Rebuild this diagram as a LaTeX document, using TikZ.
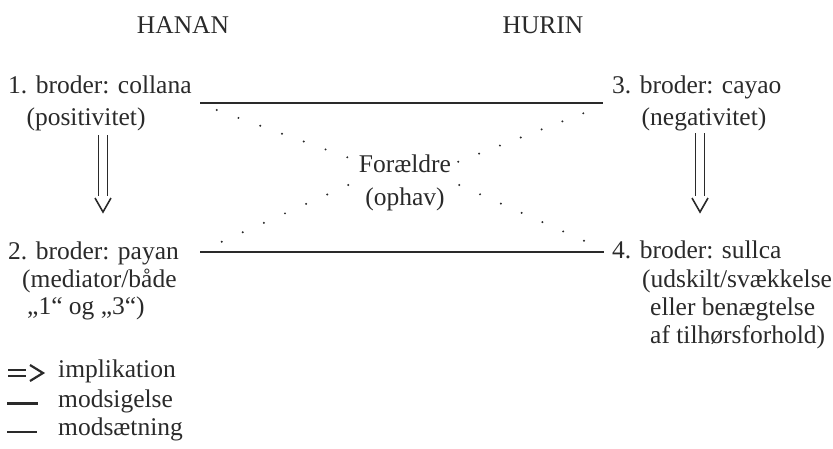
\documentclass[tikz,border=0pt]{standalone}
\usepackage{fontspec}
\setmainfont{Liberation Serif}
\usetikzlibrary{calc}
\definecolor{ink}{HTML}{2A2A2A}
\begin{document}
\begin{tikzpicture}[x=1pt,y=-1pt,
  txt/.style={inner sep=0pt, font=\fontsize{25.5}{28}\selectfont, text=ink},
  rule/.style={draw=ink, line width=1.4pt},
  impl/.style={draw=ink, line width=1.2pt, double=white, double distance=7.5pt},
  vtip/.style={draw=ink, line width=1.6pt},
  dotc/.style={fill=ink}]
\useasboundingbox (0,0) rectangle (833,448);
% headings
\node[txt, anchor=base] (hanan) at (183,33) {HANAN};
\node[txt, anchor=base] (hurin) at (543,33) {HURIN};
% brothers
\node[txt, anchor=base west] (b1) at (8,93) {1. broder: collana};
\node[txt, anchor=base] (p1) at (86,125) {(positivitet)};
\node[txt, anchor=base west] (b3) at (612,93) {3. broder: cayao};
\node[txt, anchor=base] (p3) at (704,125) {(negativitet)};
\node[txt, anchor=base west] (b2) at (8,259) {2. broder: payan};
\node[txt, anchor=base west] (p2a) at (22,287) {(mediator/både};
\node[txt, anchor=base west] (p2b) at (27,314) {„1“ og „3“)};
\node[txt, anchor=base west] (b4) at (612,258) {4. broder: sullca};
\node[txt, anchor=base west] (p4a) at (642,287) {(udskilt/svækkelse};
\node[txt, anchor=base west] (p4b) at (650,315) {eller benægtelse};
\node[txt, anchor=base west] (p4c) at (650,343) {af tilhørsforhold)};
% parents
\node[txt, anchor=base] (par) at (405,172) {Forældre};
\node[txt, anchor=base] (oph) at (405,205) {(ophav)};
% horizontal connectors
\coordinate (tl) at (200,103); \coordinate (tr) at (603,103);
\coordinate (bl) at (200,252); \coordinate (br) at (604,252);
\draw[rule] (tl) -- (tr);
\draw[rule] (bl) -- (br);
% implication arrows
\coordinate (a1s) at (103,135); \coordinate (a1e) at (103,196);
\coordinate (a3s) at (700,133); \coordinate (a3e) at (700,196);
\draw[impl] (a1s) -- (a1e);
\draw[vtip] ($(a1e)+(-8,2)$) -- ($(a1e)+(0,16)$) -- ($(a1e)+(8,2)$);
\draw[impl] (a3s) -- (a3e);
\draw[vtip] ($(a3e)+(-8,2)$) -- ($(a3e)+(0,16)$) -- ($(a3e)+(8,2)$);
% dotted diagonals
\coordinate (d1a) at (216.7,110); \coordinate (d1b) at (347.3,157.3);
\coordinate (d2a) at (459.3,185); \coordinate (d2b) at (584,240.7);
\coordinate (d3a) at (221.7,241.7); \coordinate (d3b) at (348.3,185);
\coordinate (d4a) at (458.3,161.7); \coordinate (d4b) at (583.3,113.3);
\foreach \a/\b in {d1a/d1b,d2a/d2b,d3a/d3b,d4a/d4b}{
  \foreach \t in {0,...,6}{
    \fill[dotc] ($(\a)!\t/6!(\b)$) circle (1.1pt);
  }
}
% legend
\coordinate (l1a) at (8,370); \coordinate (l1b) at (26,370);
\coordinate (l1c) at (8,376); \coordinate (l1d) at (26,376);
\draw[draw=ink, line width=1.1pt] (l1a) -- (l1b);
\draw[draw=ink, line width=1.1pt] (l1c) -- (l1d);
\coordinate (l1t) at (43,373);
\draw[draw=ink, line width=2.2pt] ($(l1t)+(-13,-8)$) -- (l1t) -- ($(l1t)+(-13,8)$);
\node[txt, anchor=base west] (timpl) at (58,377) {implikation};
\coordinate (l2a) at (7,403); \coordinate (l2b) at (38,403);
\draw[draw=ink, line width=3pt] (l2a) -- (l2b);
\node[txt, anchor=base west] (tsig) at (58,407) {modsigelse};
\coordinate (l3a) at (7,432); \coordinate (l3b) at (37,432);
\draw[draw=ink, line width=1.5pt] (l3a) -- (l3b);
\node[txt, anchor=base west] (tsaet) at (58,435) {modsætning};
\end{tikzpicture}
\end{document}
